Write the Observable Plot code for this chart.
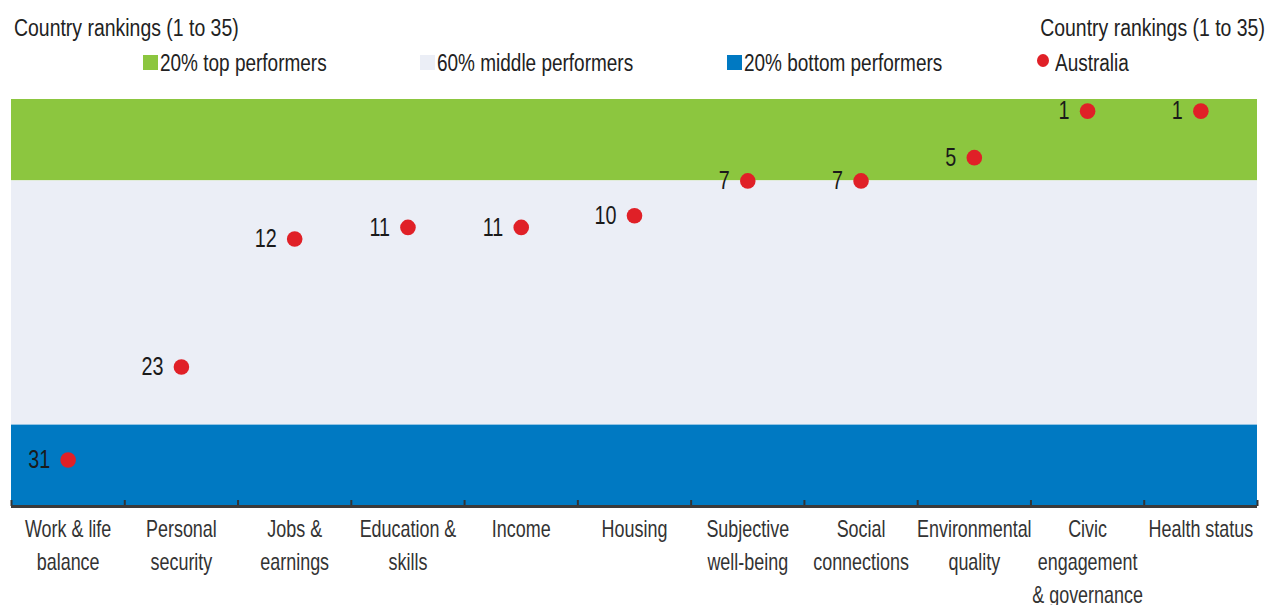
<!DOCTYPE html>
<html><head><meta charset="utf-8">
<script src="https://cdn.jsdelivr.net/npm/d3@7"></script>
<script src="https://cdn.jsdelivr.net/npm/@observablehq/plot@0.6"></script>
<style>
body{margin:0;background:#fff;font-family:"Liberation Sans Narrow","Arial Narrow","Liberation Sans",sans-serif;}
#wrap{width:1269px;height:605px;position:relative;overflow:hidden;}
#head{position:relative;height:99px;width:1269px;color:#222;font-size:23px;line-height:23px;}
#head span{position:absolute;white-space:nowrap;}
#head .sw{position:absolute;width:15px;height:15px;}
#head .dot{position:absolute;width:12px;height:13px;border-radius:50%;}
#chart svg{display:block;font-family:"Liberation Sans Narrow","Arial Narrow","Liberation Sans",sans-serif;}
</style></head>
<body><div id="wrap"><div id="head"></div><div id="chart"></div></div>
<script>
const categories = ["Work & life\nbalance","Personal\nsecurity","Jobs &\nearnings","Education &\nskills","Income","Housing","Subjective\nwell-being","Social\nconnections","Environmental\nquality","Civic\nengagement\n& governance","Health status"];
const ranks = [31,23,12,11,11,10,7,7,5,1,1];
const bandNames = ["20% top performers","60% middle performers","20% bottom performers"];
const bandFrom = [0,7,28];
const bandTo = [7,28,35];
const bandColors = ["#8CC63F","#EBEEF6","#0079C2"];
const seriesName = "Australia";
const seriesColor = "#E02027";
const axisTitle = "Country rankings (1 to 35)";
const totalCountries = 35;

// header (titles + legend)
const head = document.getElementById("head");
function addSpan(text, style){const s=document.createElement("span");s.textContent=text;Object.assign(s.style,style);head.appendChild(s);return s;}
addSpan(axisTitle,{left:"14px",top:"17px",transform:"scaleX(0.845)",transformOrigin:"left"});
addSpan(axisTitle,{right:"4px",top:"17px",transform:"scaleX(0.845)",transformOrigin:"right"});
const swatchLeft=[143,420,727];
bandNames.forEach((n,i)=>{
  const d=document.createElement("div");d.className="sw";
  Object.assign(d.style,{left:swatchLeft[i]+"px",top:"55px",background:bandColors[i]});
  head.appendChild(d);
  addSpan(n,{left:(swatchLeft[i]+17)+"px",top:"52px",transform:"scaleX(0.825)",transformOrigin:"left"});
});
const dd=document.createElement("div");dd.className="dot";
Object.assign(dd.style,{left:"1037px",top:"54px",background:seriesColor});head.appendChild(dd);
addSpan(seriesName,{left:"1055px",top:"52px",transform:"scaleX(0.825)",transformOrigin:"left"});

const bands = bandNames.map((n,i)=>({name:n,from:bandFrom[i],to:bandTo[i],color:bandColors[i]}));
const data = categories.map((c,i)=>({cat:c,pos:i+0.5,rank:ranks[i]}));
const boundaries = d3.range(categories.length+1);
const innerH = 407;

const chart = Plot.plot({
  width:1269, height:506,
  marginTop:0, marginBottom:99, marginLeft:11, marginRight:12,
  x:{domain:[0,categories.length], axis:null},
  y:{domain:[0,totalCountries], reverse:true, axis:null},
  style:{background:"transparent", overflow:"visible"},
  marks:[
    Plot.rect(bands,{y1:"from",y2:"to",fill:"color"}),
    Plot.ruleX(boundaries,{x:d=>d,y1:totalCountries-6*totalCountries/innerH,y2:totalCountries,stroke:"#333",strokeWidth:2}),
    Plot.ruleY([totalCountries],{stroke:"#3a3a3a",strokeWidth:3}),
    Plot.dot(data,{x:"pos",y:"rank",r:7.8,fill:seriesColor}),
    Plot.text(data,{x:"pos",y:"rank",text:d=>String(d.rank),dx:-18,textAnchor:"end",fontSize:26,fill:"#1a1a1a",className:"rk"}),
    Plot.text(data,{x:"pos",text:"cat",frameAnchor:"bottom",lineAnchor:"top",dy:7,lineHeight:1.44,fontSize:23,fill:"#333",className:"cl"})
  ]
});
function squeeze(sel,k){
  chart.querySelectorAll(sel).forEach(t=>{
    let tr=t.getAttribute("transform");
    if(tr){ t.setAttribute("transform",tr+` scale(${k},1)`); return; }
    const x=parseFloat(t.getAttribute("x")||"0");
    if(!isNaN(x)){ t.setAttribute("x","0"); t.setAttribute("transform",`translate(${x},0) scale(${k},1)`); }
  });
}
squeeze(".rk text",0.76);
squeeze(".cl text",0.78);
document.getElementById("chart").appendChild(chart);
</script>
</body></html>
